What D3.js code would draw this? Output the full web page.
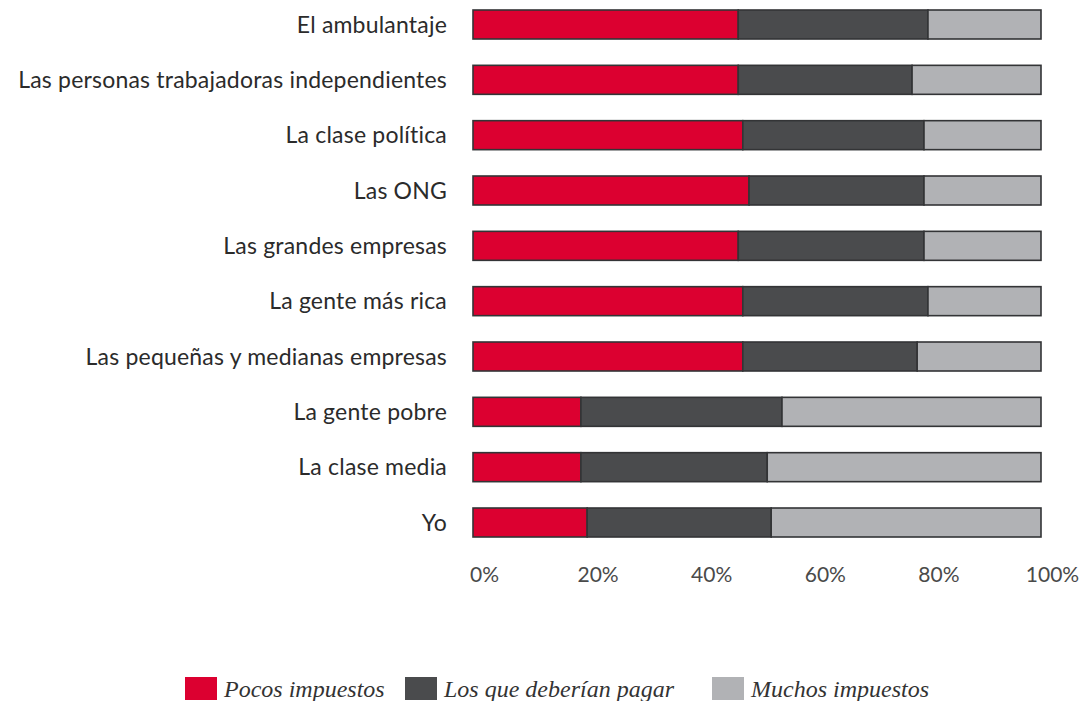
<!DOCTYPE html>
<html>
<head>
<meta charset="utf-8">
<script src="https://cdn.jsdelivr.net/npm/d3@7"></script>
<style>
	body { margin: 0; background: #ffffff; }
	svg { display: block; }
</style>
</head>
<body>
<div id="chart"></div>
<script>
// categories, top to bottom
var categories = ["El ambulantaje", "Las personas trabajadoras independientes", "La clase política", "Las ONG",
	"Las grandes empresas", "La gente más rica", "Las pequeñas y medianas empresas", "La gente pobre",
	"La clase media", "Yo"];

// series values (percent)
var pocos = [46.7, 46.7, 47.5, 48.6, 46.7, 47.5, 47.5, 19.0, 19.0, 20.1];
var deberian = [33.4, 30.6, 31.9, 30.8, 32.7, 32.6, 30.7, 35.4, 32.8, 32.4];
var muchos = [19.9, 22.7, 20.6, 20.6, 20.6, 19.9, 21.8, 45.6, 48.2, 47.5];

var series_names = ["Pocos impuestos", "Los que deberían pagar", "Muchos impuestos"];
var tick_values = [0, 20, 40, 60, 80, 100];

var colors = ["#dc0030", "#4a4b4d", "#b1b2b5"];

var width = 1084, height = 701;
var margin = {left: 473, right: 43, top: 10};

var svg = d3.select("#chart").append("svg")
	.attr("width", width)
	.attr("height", height);

// build the table the stack needs
var data = categories.map(function(c, i) {
	return {cat: c, s0: pocos[i], s1: deberian[i], s2: muchos[i]};
});
var stacked = d3.stack().keys(["s0", "s1", "s2"])(data);

var xs = d3.scaleLinear().domain([0, 100]).range([margin.left, width - margin.right]);
var ys = d3.scaleBand().domain(categories).range([margin.top, 537]).paddingInner(0.476).paddingOuter(0);

// bars
svg.append("g")
	.selectAll("g").data(stacked).enter().append("g")
	.attr("fill", function(d, i) { return colors[i]; })
	.selectAll("rect").data(function(d) { return d; }).enter().append("rect")
	.attr("x", function(d) { return xs(d[0]); })
	.attr("y", function(d) { return ys(d.data.cat); })
	.attr("width", function(d) { return xs(d[1]) - xs(d[0]); })
	.attr("height", ys.bandwidth())
	.attr("stroke", "#333436")
	.attr("stroke-width", 1.6);

// category labels
svg.append("g")
	.selectAll("text").data(categories).enter().append("text")
	.attr("x", margin.left - 26)
	.attr("y", function(d) { return ys(d) + ys.bandwidth() / 2; })
	.attr("dy", "0.35em")
	.attr("text-anchor", "end")
	.attr("font-family", "Lato, sans-serif")
	.attr("font-size", "23px")
	.attr("letter-spacing", "0.2px")
	.attr("fill", "#2b2b2b")
	.text(function(d) { return d; });

// x axis, labels sit a little right of the bar scale
var axis = svg.append("g")
	.attr("transform", "translate(11,567)")
	.call(d3.axisBottom(xs).tickValues(tick_values).tickSize(0).tickFormat(function(d) { return d + "%"; }));
axis.select(".domain").remove();
axis.selectAll("text")
	.attr("font-family", "Lato, sans-serif")
	.attr("font-weight", 400)
	.attr("font-size", "21px")
	.attr("fill", "#4a4a4a")
	.attr("dy", "0.71em")
	.attr("y", 0);

// legend
var legend_x = [185, 405, 712];
var lg = svg.append("g")
	.selectAll("g").data(series_names).enter().append("g")
	.attr("transform", function(d, i) { return "translate(" + legend_x[i] + ",677)"; });
lg.append("rect")
	.attr("width", 32)
	.attr("height", 23)
	.attr("fill", function(d, i) { return colors[i]; });
lg.append("text")
	.attr("x", 39)
	.attr("y", 11.5)
	.attr("dy", "0.35em")
	.attr("font-family", "'Liberation Serif', serif")
	.attr("font-style", "italic")
	.attr("font-size", "24px")
	.attr("fill", "#333333")
	.text(function(d) { return d; });
</script>
</body>
</html>
